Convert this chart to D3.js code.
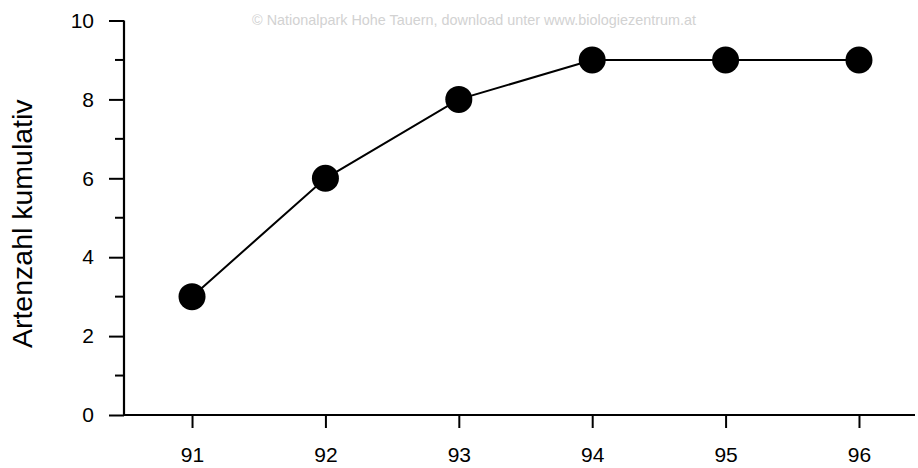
<!DOCTYPE html>
<html>
<head>
<meta charset="utf-8">
<script src="https://cdn.jsdelivr.net/npm/d3@7"></script>
<style>
  html, body { margin: 0; padding: 0; background: #fff; }
  svg { display: block; font-family: "Liberation Sans", Arial, sans-serif; }
</style>
</head>
<body>
<svg id="chart" width="918" height="468"></svg>
<script>
// Cumulative species count per survey year
const years = [91, 92, 93, 94, 95, 96];
const cumulative = [3, 6, 8, 9, 9, 9];
const yTicks = [0, 2, 4, 6, 8, 10];
const yMinorTicks = [1, 3, 5, 7, 9];
const yLabel = "Artenzahl kumulativ";
const credit = "© Nationalpark Hohe Tauern, download unter www.biologiezentrum.at";

const svg = d3.select("#chart");

const x = d3.scaleLinear().domain([90.49, 96.42]).range([124, 915]);
const y = d3.scaleLinear().domain([0, 10]).range([415, 20.5]);

// faint credit line along the top
svg.append("text")
  .attr("x", 474).attr("y", 25)
  .attr("text-anchor", "middle")
  .attr("font-size", 14.4)
  .attr("fill", "#d2d2d2")
  .text(credit);

// y axis with major and minor ticks
const yAxis = svg.append("g").attr("transform", `translate(${x.range()[0]},0)`);
yAxis.call(d3.axisLeft(y).tickValues(yTicks).tickSize(15).tickPadding(15).tickFormat(d3.format("d")));
yAxis.selectAll(".minor").data(yMinorTicks).enter().append("line")
  .attr("class", "minor")
  .attr("x1", -9).attr("x2", 0)
  .attr("y1", d => y(d)).attr("y2", d => y(d))
  .attr("stroke", "#000").attr("stroke-width", 2);

// x axis
const xAxis = svg.append("g").attr("transform", `translate(0,${y(0)})`);
xAxis.call(d3.axisBottom(x).tickValues(years).tickSize(13).tickPadding(19).tickFormat(d3.format("d")));

[yAxis, xAxis].forEach(g => {
  g.select(".domain").attr("stroke", "#000").attr("stroke-width", 2.2);
  g.selectAll(".tick line").attr("stroke", "#000").attr("stroke-width", 2);
  g.selectAll(".tick text").attr("font-size", 21).attr("fill", "#000");
});
// plain domain lines without outer ticks
yAxis.select(".domain").attr("d", `M0,${y(10)}V${y(0)}`);
xAxis.select(".domain").attr("d", `M${x.range()[0]},0H${x.range()[1]}`);

// y axis title
svg.append("text")
  .attr("transform", `translate(32,${y(5) + 6}) rotate(-90)`)
  .attr("text-anchor", "middle")
  .attr("font-size", 28.5)
  .attr("fill", "#000")
  .text(yLabel);

const pts = years.map((yr, i) => ({ yr, v: cumulative[i] }));

// connecting line
svg.append("path")
  .datum(pts)
  .attr("fill", "none")
  .attr("stroke", "#000")
  .attr("stroke-width", 2)
  .attr("d", d3.line().x(d => x(d.yr)).y(d => y(d.v)));

// markers
svg.selectAll("circle.pt").data(pts).enter().append("circle")
  .attr("class", "pt")
  .attr("cx", d => x(d.yr)).attr("cy", d => y(d.v))
  .attr("r", 13.5)
  .attr("fill", "#000");
</script>
</body>
</html>
